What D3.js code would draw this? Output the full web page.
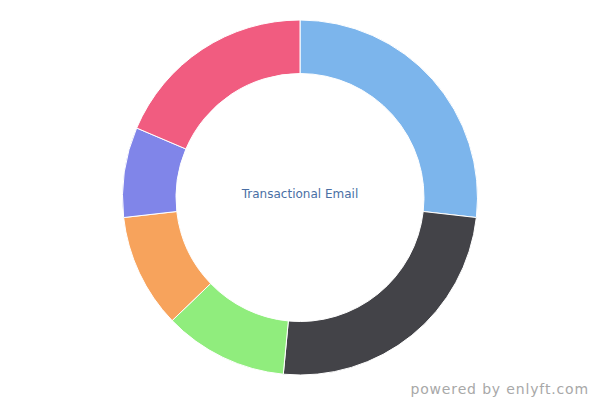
<!DOCTYPE html>
<html><head><meta charset="utf-8">
<script src="https://cdn.jsdelivr.net/npm/d3@7"></script>
<style>body{margin:0;background:#fff;}svg{display:block;}</style>
</head><body>
<svg id="c" width="600" height="400"></svg>
<script>
const categories = ["A","B","C","D","E","F"];
const values = [26.8, 24.7, 11.3, 10.4, 8.2, 18.6];
const colors = ["#7cb5ec","#434348","#90ed7d","#f7a35c","#8085e9","#f15c80"];
const title = "Transactional Email";
const credit = "powered by enlyft.com";

const svg = d3.select("#c");
const cx = 300, cy = 197.5, R = 177.5, r = 124;
const pie = d3.pie().sort(null).value(d => d)(values);
const arc = d3.arc().innerRadius(r).outerRadius(R);
const g = svg.append("g").attr("transform", `translate(${cx},${cy})`);
g.selectAll("path").data(pie).enter().append("path")
  .attr("d", arc)
  .attr("fill", (d,i) => colors[i])
  .attr("stroke", "#fff").attr("stroke-width", 1).attr("stroke-linejoin","round");
svg.append("text").attr("x", cx).attr("y", 197.5).attr("text-anchor","middle")
  .attr("font-family","DejaVu Sans").attr("font-size", 12).attr("fill","#4a6fa5")
  .text(title);
svg.append("text").attr("x", 589).attr("y", 394).attr("text-anchor","end")
  .attr("font-family","DejaVu Sans").attr("font-size", 14).attr("letter-spacing", 0.85)
  .attr("fill","#a8a8a8")
  .text(credit);
</script>
</body></html>
